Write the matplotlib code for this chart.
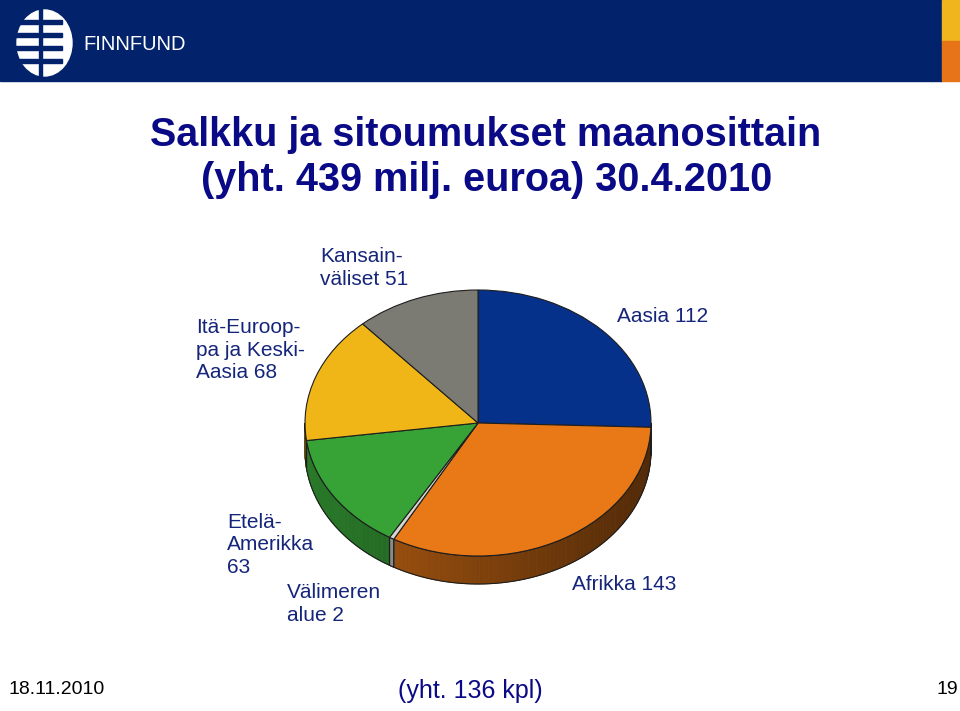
'''
Finnfund portfolio by region, 30.4.2010 - tilted pie chart slide.
'''

import numpy as np
import matplotlib.pyplot as plt
from matplotlib.patches import Rectangle, Polygon, Ellipse
from matplotlib.colors import to_rgb

# data
regions = ['Aasia', 'Afrikka', 'Välimeren alue', 'Etelä-Amerikka',
           'Itä-Eurooppa ja Keski-Aasia', 'Kansainväliset']
amounts = [112, 143, 2, 63, 68, 51]
label_texts = ['Aasia 112', 'Afrikka 143', 'Välimeren\nalue 2',
               'Etelä-\nAmerikka\n63', 'Itä-Euroop-\npa ja Keski-\nAasia 68',
               'Kansain-\nväliset 51']
colors = ['#06318a', '#e97816', '#d6d6d0', '#37a337', '#f0b516', '#7b7b73']

title_lines = ['Salkku ja sitoumukset maanosittain',
               '(yht. 439 milj. euroa) 30.4.2010']
footer_date = '18.11.2010'
footer_count = '(yht. 136 kpl)'
page_no = '19'

# label anchors in slide pixels (left x, centre y)
label_pos = [(617, 316), (572, 585), (287, 604), (227, 545), (196, 350), (320, 268)]

navy = '#02226c'
title_col = '#0a0a86'
label_col = '#15257a'
sans = ['Liberation Sans', 'DejaVu Sans']

fig = plt.figure(figsize=(9.6, 7.11), dpi=100)

# slide background in pixel coords
bg = fig.add_axes([0, 0, 1, 1])
bg.set_xlim(0, 960)
bg.set_ylim(711, 0)
bg.axis('off')

# header band
bg.add_patch(Rectangle((0, 0), 942, 81, color=navy))
bg.add_patch(Rectangle((942, 0), 18, 41, color='#f0b41c'))
bg.add_patch(Rectangle((942, 41), 18, 40, color='#e8741a'))

# logo: striped globe split in two
bg.add_patch(Ellipse((44.5, 43), 55, 66, color='white'))
bg.add_patch(Rectangle((39, 8), 3, 72, color=navy))
for y in [20, 33, 46, 59]:
    bg.add_patch(Rectangle((12, y), 26, 4, color=navy))
    bg.add_patch(Rectangle((42, y), 20, 4, color=navy))
bg.text(83, 45, 'FINNFUND', color='white', fontsize=14.5, va='center',
        ha='left', family=sans)

# title
bg.text(486, 146, title_lines[0], color=title_col, fontsize=28.5, fontweight='bold',
        ha='center', va='baseline', family=sans)
bg.text(487, 191, title_lines[1], color=title_col, fontsize=28.5, fontweight='bold',
        ha='center', va='baseline', family=sans)

# footer
bg.text(8, 690, footer_date, fontsize=14, ha='left', va='center', family=sans)
bg.text(470, 691, footer_count, fontsize=18, ha='center', va='center',
        color=title_col, family=sans)
bg.text(958, 690, page_no, fontsize=14, ha='right', va='center', family=sans)

# tilted pie: circle drawn in an axes with unequal x/y scale -> ellipse
cx, cy, rx, ry = 478, 423, 173, 133
depth = 28 / ry
ax = fig.add_axes([(cx - 1.25 * rx) / 960, (711 - cy - 1.5 * ry) / 711,
                   2.5 * rx / 960, 2.75 * ry / 711])
wedges, _ = ax.pie(amounts, colors=colors, startangle=90, counterclock=False,
                   wedgeprops=dict(edgecolor='#1e1e1e', linewidth=0.8))
for w in wedges:
    w.set_zorder(3)
ax.set_aspect('auto')
ax.set_xlim(-1.25, 1.25)
ax.set_ylim(-1.5, 1.25)
ax.axis('off')

# side rim for the front half of each wedge
for w, c in zip(wedges, colors):
    base = np.array(to_rgb(c))
    for lo, hi in [(180, 360), (-180, 0)]:
        a, b = max(w.theta1, lo), min(w.theta2, hi)
        if b <= a:
            continue
        t = np.radians(np.linspace(a, b, 80))
        for t0, t1 in zip(t[:-1], t[1:]):
            pos = (np.cos((t0 + t1) / 2) + 1) / 2
            shade = np.clip(base * (0.75 - 0.4 * pos), 0, 1)
            quad = [(np.cos(t0), np.sin(t0)), (np.cos(t1), np.sin(t1)),
                    (np.cos(t1), np.sin(t1) - depth), (np.cos(t0), np.sin(t0) - depth)]
            ax.add_patch(Polygon(quad, closed=True, facecolor=shade,
                                 edgecolor=shade, linewidth=0.6, zorder=1))
        outline = [(np.cos(v), np.sin(v)) for v in t] + \
                  [(np.cos(v), np.sin(v) - depth) for v in t[::-1]]
        ax.add_patch(Polygon(outline, closed=True, fill=False,
                             edgecolor='#1e1e1e', linewidth=0.8, zorder=2))

# labels
for txt, (lx, ly) in zip(label_texts, label_pos):
    bg.text(lx, ly, txt, color=label_col, fontsize=15, ha='left', va='center',
            linespacing=1.25, family=sans)

fig.savefig('out.png', dpi=100)
